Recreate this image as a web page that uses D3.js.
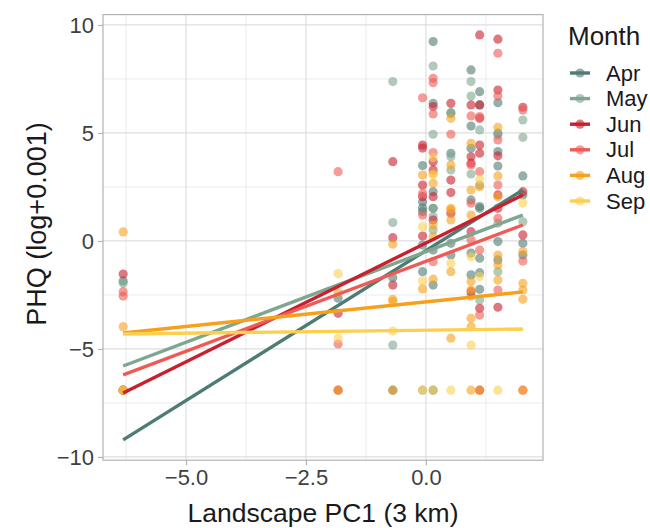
<!DOCTYPE html>
<html>
<head>
<meta charset="utf-8">
<script src="https://cdn.jsdelivr.net/npm/d3@7"></script>
<style>
  html, body { margin: 0; padding: 0; background: #fff; }
  svg { display: block; font-family: "Liberation Sans", Arial, sans-serif; }
</style>
</head>
<body>
<svg id="chart" width="650" height="528"></svg>
<script>
// ---------- data ----------
const months = ["Apr", "May", "Jun", "Jul", "Aug", "Sep"];
const monthColors = ["#4E7B73", "#7FA68F", "#C8202F", "#EF5A55", "#F6A01C", "#FDCF4F"];

// points per month: [Landscape PC1, PHQ (log+0.001)]
const aprPoints = [
  [-6.31, -1.85], [-6.31, -6.908],
  [-1.83, -2.65],
  [-0.69, -1.7], [-0.69, -6.908],
  [-0.07, 3.49], [-0.07, 1.8], [-0.07, 1.53], [-0.07, 1.36], [-0.07, -0.19], [-0.07, -1.42],
  [0.15, 9.23], [0.15, 6.37], [0.15, 2.28], [0.15, 1.51], [0.15, -0.42], [0.15, -2.04], [0.15, -6.908],
  [0.52, 5.94], [0.52, 4.06], [0.52, -0.11], [0.52, -0.65],
  [0.94, 7.92], [0.94, 5.32], [0.94, 4.29], [0.94, 1.9], [0.94, -0.56], [0.94, -1.57],
  [1.12, 6.91], [1.12, 6.3], [1.12, 1.59], [1.12, 1.51], [1.12, -0.8], [1.12, -1.47], [1.12, -2.24],
  [1.5, 6.4], [1.5, 4.99], [1.5, 4.14], [1.5, 3.47], [1.5, -0.03], [1.5, -0.88],
  [2.02, 3.01], [2.02, 2.13], [2.02, -0.11], [2.02, -0.65]
];
const mayPoints = [
  [-6.31, -1.95],
  [-0.69, 7.38], [-0.69, 0.85], [-0.69, -4.82],
  [-0.07, -6.908],
  [0.15, 8.1], [0.15, 4.94], [0.15, 1.51], [0.15, 1.13], [0.15, 0.51],
  [0.52, 5.9], [0.52, 3.9], [0.52, 3.29],
  [0.94, 7.38], [0.94, 6.71], [0.94, 3.1], [0.94, -2.55],
  [1.12, 5.14], [1.12, 2.59], [1.12, -2.73],
  [1.5, 4.91], [1.5, 0.82], [1.5, -1.42],
  [2.02, 5.6], [2.02, 4.8], [2.02, 0.89]
];
const junPoints = [
  [-6.31, -1.53], [-6.31, -6.908],
  [-1.83, -3.35], [-1.83, -6.908],
  [-0.69, 3.67], [-0.69, 0.15], [-0.69, -2.04],
  [-0.07, 4.44], [-0.07, 4.3], [-0.07, 2.59], [-0.07, 2.05], [-0.07, 0.23],
  [0.15, 6.22], [0.15, 3.67], [0.15, 3.29], [0.15, 2.05], [0.15, 0.97],
  [0.52, 6.37], [0.52, 2.82], [0.52, 2.24], [0.52, 1.28],
  [0.94, 6.3], [0.94, 3.9], [0.94, 3.6], [0.94, 0.43], [0.94, -2.35],
  [1.12, 9.54], [1.12, 6.3], [1.12, 5.68], [1.12, 4.44], [1.12, 4.06], [1.12, -3.12], [1.12, -6.908],
  [1.5, 9.34], [1.5, 6.99], [1.5, 3.94], [1.5, 2.13], [1.5, 1.51], [1.5, -3.07],
  [2.02, 6.19], [2.02, 2.28], [2.02, 0.28]
];
const julPoints = [
  [-6.31, -2.35], [-6.31, -2.55], [-6.31, -6.908],
  [-1.83, 3.21], [-1.83, -4.77],
  [-0.07, 6.63], [-0.07, 2.2], [-0.07, 1.2],
  [0.15, 7.53], [0.15, 7.33], [0.15, 5.88], [0.15, 4.09], [0.15, -0.96],
  [0.52, 4.94],
  [0.94, 5.79], [0.94, 3.52], [0.94, 1.75], [0.94, 0.05],
  [1.12, 5.76], [1.12, 3.21], [1.12, -0.42], [1.12, -3.43],
  [1.5, 8.69], [1.5, 6.71], [1.5, 4.68], [1.5, 2.59], [1.5, 1.05], [1.5, -2.27],
  [2.02, 6.06], [2.02, -0.93], [2.02, -6.908]
];
const augPoints = [
  [-6.31, 0.42], [-6.31, -3.97], [-6.31, -6.908],
  [-1.83, -2.39], [-1.83, -6.908],
  [-0.69, -0.15], [-0.69, -2.7], [-0.69, -2.8], [-0.69, -6.908],
  [-0.07, 3.05], [-0.07, -2.22],
  [0.15, 3.13], [0.15, 2.67], [0.15, 0.74], [0.15, 0.2], [0.15, -1.77],
  [0.52, 5.68], [0.52, 3.52], [0.52, 1.51], [0.52, 1.44], [0.52, 0.97], [0.52, -1.42], [0.52, -4.5],
  [0.94, 4.52], [0.94, 2.36], [0.94, 1.2], [0.94, -1.88], [0.94, -2.27], [0.94, -3.58], [0.94, -3.97], [0.94, -6.908],
  [1.12, 2.51], [1.12, -6.908],
  [1.5, 5.26], [1.5, 3.01], [1.5, 2.05], [1.5, -0.65], [1.5, -1.11], [1.5, -1.81],
  [2.02, -0.49], [2.02, -1.96], [2.02, -2.27], [2.02, -2.7], [2.02, -6.908]
];
const sepPoints = [
  [-6.31, -6.908],
  [-1.83, -1.51], [-1.83, -4.5],
  [-0.69, -4.17],
  [-0.07, 0.66], [-0.07, -1.85], [-0.07, -6.908],
  [0.15, 3.86], [0.15, 3.05], [0.15, -6.908],
  [0.52, -1.03], [0.52, -6.908],
  [0.94, -0.73], [0.94, -4.82],
  [1.12, 2.86], [1.12, -1.65],
  [1.5, -6.908],
  [2.02, 1.76]
];
const monthPoints = [aprPoints, mayPoints, junPoints, julPoints, augPoints, sepPoints];

// fitted linear trend per month (intercept at PC1 = 0, slope)
const fitIntercepts = [-0.446, -0.495, -0.094, -0.943, -2.82, -4.13];
const fitSlopes = [1.389, 0.839, 1.101, 0.833, 0.228, 0.028];

const xTicks = [-5.0, -2.5, 0.0];
const xMinor = [-6.25, -3.75, -1.25, 1.25];
const yTicks = [-10, -5, 0, 5, 10];
const yMinor = [-7.5, -2.5, 2.5, 7.5];
const xTitle = "Landscape PC1 (3 km)";
const yTitle = "PHQ (log+0.001)";
const legendTitle = "Month";

// ---------- drawing ----------
const svg = d3.select("#chart");
const P = { left: 103, right: 543, top: 14.6, bottom: 460.2 };

const x = d3.scaleLinear().domain([-6.73, 2.44]).range([P.left, P.right]);
const y = d3.scaleLinear().domain([-10.15, 10.48]).range([P.bottom, P.top]);

const grid = svg.append("g");
xMinor.forEach(v => grid.append("line")
  .attr("x1", x(v)).attr("x2", x(v)).attr("y1", P.top).attr("y2", P.bottom)
  .attr("stroke", "#E6E6E6").attr("stroke-width", 0.8));
yMinor.forEach(v => grid.append("line")
  .attr("y1", y(v)).attr("y2", y(v)).attr("x1", P.left).attr("x2", P.right)
  .attr("stroke", "#E6E6E6").attr("stroke-width", 0.8));
xTicks.forEach(v => grid.append("line")
  .attr("x1", x(v)).attr("x2", x(v)).attr("y1", P.top).attr("y2", P.bottom)
  .attr("stroke", "#DEDEDE").attr("stroke-width", 1.2));
yTicks.forEach(v => grid.append("line")
  .attr("y1", y(v)).attr("y2", y(v)).attr("x1", P.left).attr("x2", P.right)
  .attr("stroke", "#DEDEDE").attr("stroke-width", 1.2));

// points
const pts = svg.append("g");
monthPoints.forEach((arr, i) => {
  pts.selectAll(null).data(arr).enter().append("circle")
    .attr("cx", d => x(d[0])).attr("cy", d => y(d[1]))
    .attr("r", 4.6)
    .attr("fill", monthColors[i]).attr("fill-opacity", 0.6);
});

// trend lines
const lines = svg.append("g");
monthPoints.forEach((arr, i) => {
  const ext = d3.extent(arr, d => d[0]);
  const seg = ext.map(v => [v, fitIntercepts[i] + fitSlopes[i] * v]);
  lines.append("path")
    .attr("d", d3.line().x(d => x(d[0])).y(d => y(d[1]))(seg))
    .attr("stroke", monthColors[i]).attr("stroke-width", 3.4)
    .attr("fill", "none");
});

// panel border
svg.append("rect")
  .attr("x", P.left).attr("y", P.top)
  .attr("width", P.right - P.left).attr("height", P.bottom - P.top)
  .attr("fill", "none").attr("stroke", "#B3B3B3").attr("stroke-width", 1.2);

// axes
const xAxis = svg.append("g").attr("transform", `translate(0,${P.bottom})`)
  .call(d3.axisBottom(x).tickValues(xTicks).tickFormat(d3.format(".1f")).tickSize(5).tickPadding(4));
const yAxis = svg.append("g").attr("transform", `translate(${P.left},0)`)
  .call(d3.axisLeft(y).tickValues(yTicks).tickFormat(d3.format("d")).tickSize(5).tickPadding(4));
[xAxis, yAxis].forEach(a => {
  a.select(".domain").remove();
  a.selectAll(".tick line").attr("stroke", "#B3B3B3").attr("stroke-width", 1.2);
  a.selectAll(".tick text").attr("fill", "#3F3F3F")
    .style("font-size", "22px").style("font-family", "'Liberation Sans', Arial, sans-serif");
});

svg.append("text").attr("x", (P.left + P.right) / 2).attr("y", 522)
  .attr("text-anchor", "middle").attr("fill", "#1A1A1A")
  .style("font-size", "26.5px").text(xTitle);
svg.append("text")
  .attr("transform", `translate(37,224) rotate(-90)`)
  .attr("text-anchor", "middle").attr("dominant-baseline", "central").attr("fill", "#1A1A1A")
  .style("font-size", "27px").text(yTitle);

// legend
const lg = svg.append("g");
lg.append("text").attr("x", 568).attr("y", 45).attr("fill", "#1A1A1A")
  .style("font-size", "26px").text(legendTitle);
months.forEach((m, i) => {
  const cy = 73 + i * 25.6;
  lg.append("line").attr("x1", 570).attr("x2", 590).attr("y1", cy).attr("y2", cy)
    .attr("stroke", monthColors[i]).attr("stroke-width", 3.4);
  lg.append("circle").attr("cx", 580).attr("cy", cy).attr("r", 4.6)
    .attr("fill", monthColors[i]).attr("fill-opacity", 0.6);
  lg.append("text").attr("x", 606).attr("y", cy).attr("dominant-baseline", "central")
    .attr("fill", "#1A1A1A").style("font-size", "22px").text(m);
});
</script>
</body>
</html>
